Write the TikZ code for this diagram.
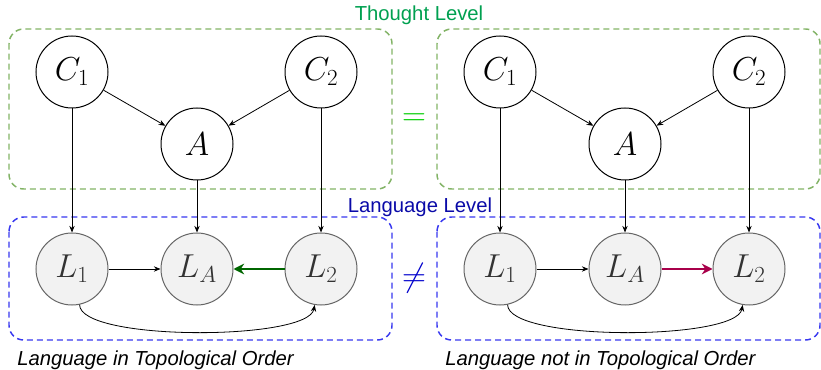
\documentclass[tikz,border=0pt]{standalone}
\usepackage{fontspec}
\newfontfamily\labelfont{Liberation Sans}
\usetikzlibrary{arrows.meta}
\definecolor{thoughtbox}{HTML}{82B366}
\definecolor{thoughttext}{HTML}{00A050}
\definecolor{langbox}{HTML}{3838F0}
\definecolor{langtext}{HTML}{0A0AA8}
\definecolor{nodefill}{HTML}{F2F2F2}
\definecolor{nodeline}{HTML}{666666}
\definecolor{nodetext}{HTML}{333333}
\definecolor{keepgreen}{HTML}{006600}
\definecolor{swapred}{HTML}{A8004A}
\definecolor{eqgreen}{HTML}{00CC00}
\definecolor{neqblue}{HTML}{0000CC}

\begin{document}
\begin{tikzpicture}[x=0.75pt,y=-0.75pt,
    thought/.style={circle,draw=black,line width=0.75pt,fill=white,minimum size=54pt,inner sep=0pt,font=\fontsize{24}{28}\selectfont},
    lang/.style={thought,draw=nodeline,fill=nodefill,text=nodetext},
    link/.style={-{Stealth[length=5pt,width=4pt]},line width=0.6pt},
    strong/.style={-{Stealth[length=8pt,width=8pt]},line width=2.2pt},
    levelbox/.style={rounded corners=11pt,line width=1.1pt,dash pattern=on 4.5pt off 3pt},
    leveltext/.style={font=\labelfont\fontsize{15.2}{18}\selectfont,inner sep=0pt,anchor=base},
    caption/.style={font=\labelfont\itshape\fontsize{15.2}{18}\selectfont,inner sep=0pt,anchor=base west},
    relation/.style={font=\fontsize{32}{36}\selectfont,inner sep=0pt}]
  \useasboundingbox (0,0) rectangle (821,370);
  \draw[levelbox,draw=thoughtbox] (9,29) rectangle (392,189);
  \draw[levelbox,draw=thoughtbox] (437,29) rectangle (820,189);
  \draw[levelbox,draw=langbox] (9,217) rectangle (392,340);
  \draw[levelbox,draw=langbox] (437,217) rectangle (820,340);
  \node[leveltext,text=thoughttext] (thoughtlbl) at (419,21) {Thought Level};
  \node[leveltext,text=langtext] (langlbl) at (420,213) {Language Level};

  \node[thought] (C1a) at (72,72) {$C_1$};
  \node[thought] (C2a) at (321,72) {$C_2$};
  \node[thought] (Aa) at (197,144) {$A$};
  \node[lang] (L1a) at (72,269) {$L_1$};
  \node[lang] (LAa) at (197,269) {$L_A$};
  \node[lang] (L2a) at (321,269) {$L_2$};
  \draw[link] (C1a) -- (Aa);
  \draw[link] (C2a) -- (Aa);
  \draw[link] (C1a) -- (L1a);
  \draw[link] (Aa) -- (LAa);
  \draw[link] (C2a) -- (L2a);
  \draw[link] (L1a) -- (LAa);
  \draw[strong,color=keepgreen] (L2a) -- (LAa);
  \draw[link] (L1a.-78) to[out=-90,in=-100,looseness=0.4] (L2a.-100);

  \node[thought] (C1b) at (500,72) {$C_1$};
  \node[thought] (C2b) at (749,72) {$C_2$};
  \node[thought] (Ab) at (625,144) {$A$};
  \node[lang] (L1b) at (500,269) {$L_1$};
  \node[lang] (LAb) at (625,269) {$L_A$};
  \node[lang] (L2b) at (749,269) {$L_2$};
  \draw[link] (C1b) -- (Ab);
  \draw[link] (C2b) -- (Ab);
  \draw[link] (C1b) -- (L1b);
  \draw[link] (Ab) -- (LAb);
  \draw[link] (C2b) -- (L2b);
  \draw[link] (L1b) -- (LAb);
  \draw[strong,color=swapred] (LAb) -- (L2b);
  \draw[link] (L1b.-78) to[out=-90,in=-100,looseness=0.4] (L2b.-100);

  \node[relation,text=eqgreen] (same) at (414,120) {$=$};
  \node[relation,text=neqblue] (differ) at (414,278) {$\neq$};
  \node[caption] (capa) at (17,365) {Language in Topological Order};
  \node[caption] (capb) at (445,365) {Language not in Topological Order};
\end{tikzpicture}
\end{document}
